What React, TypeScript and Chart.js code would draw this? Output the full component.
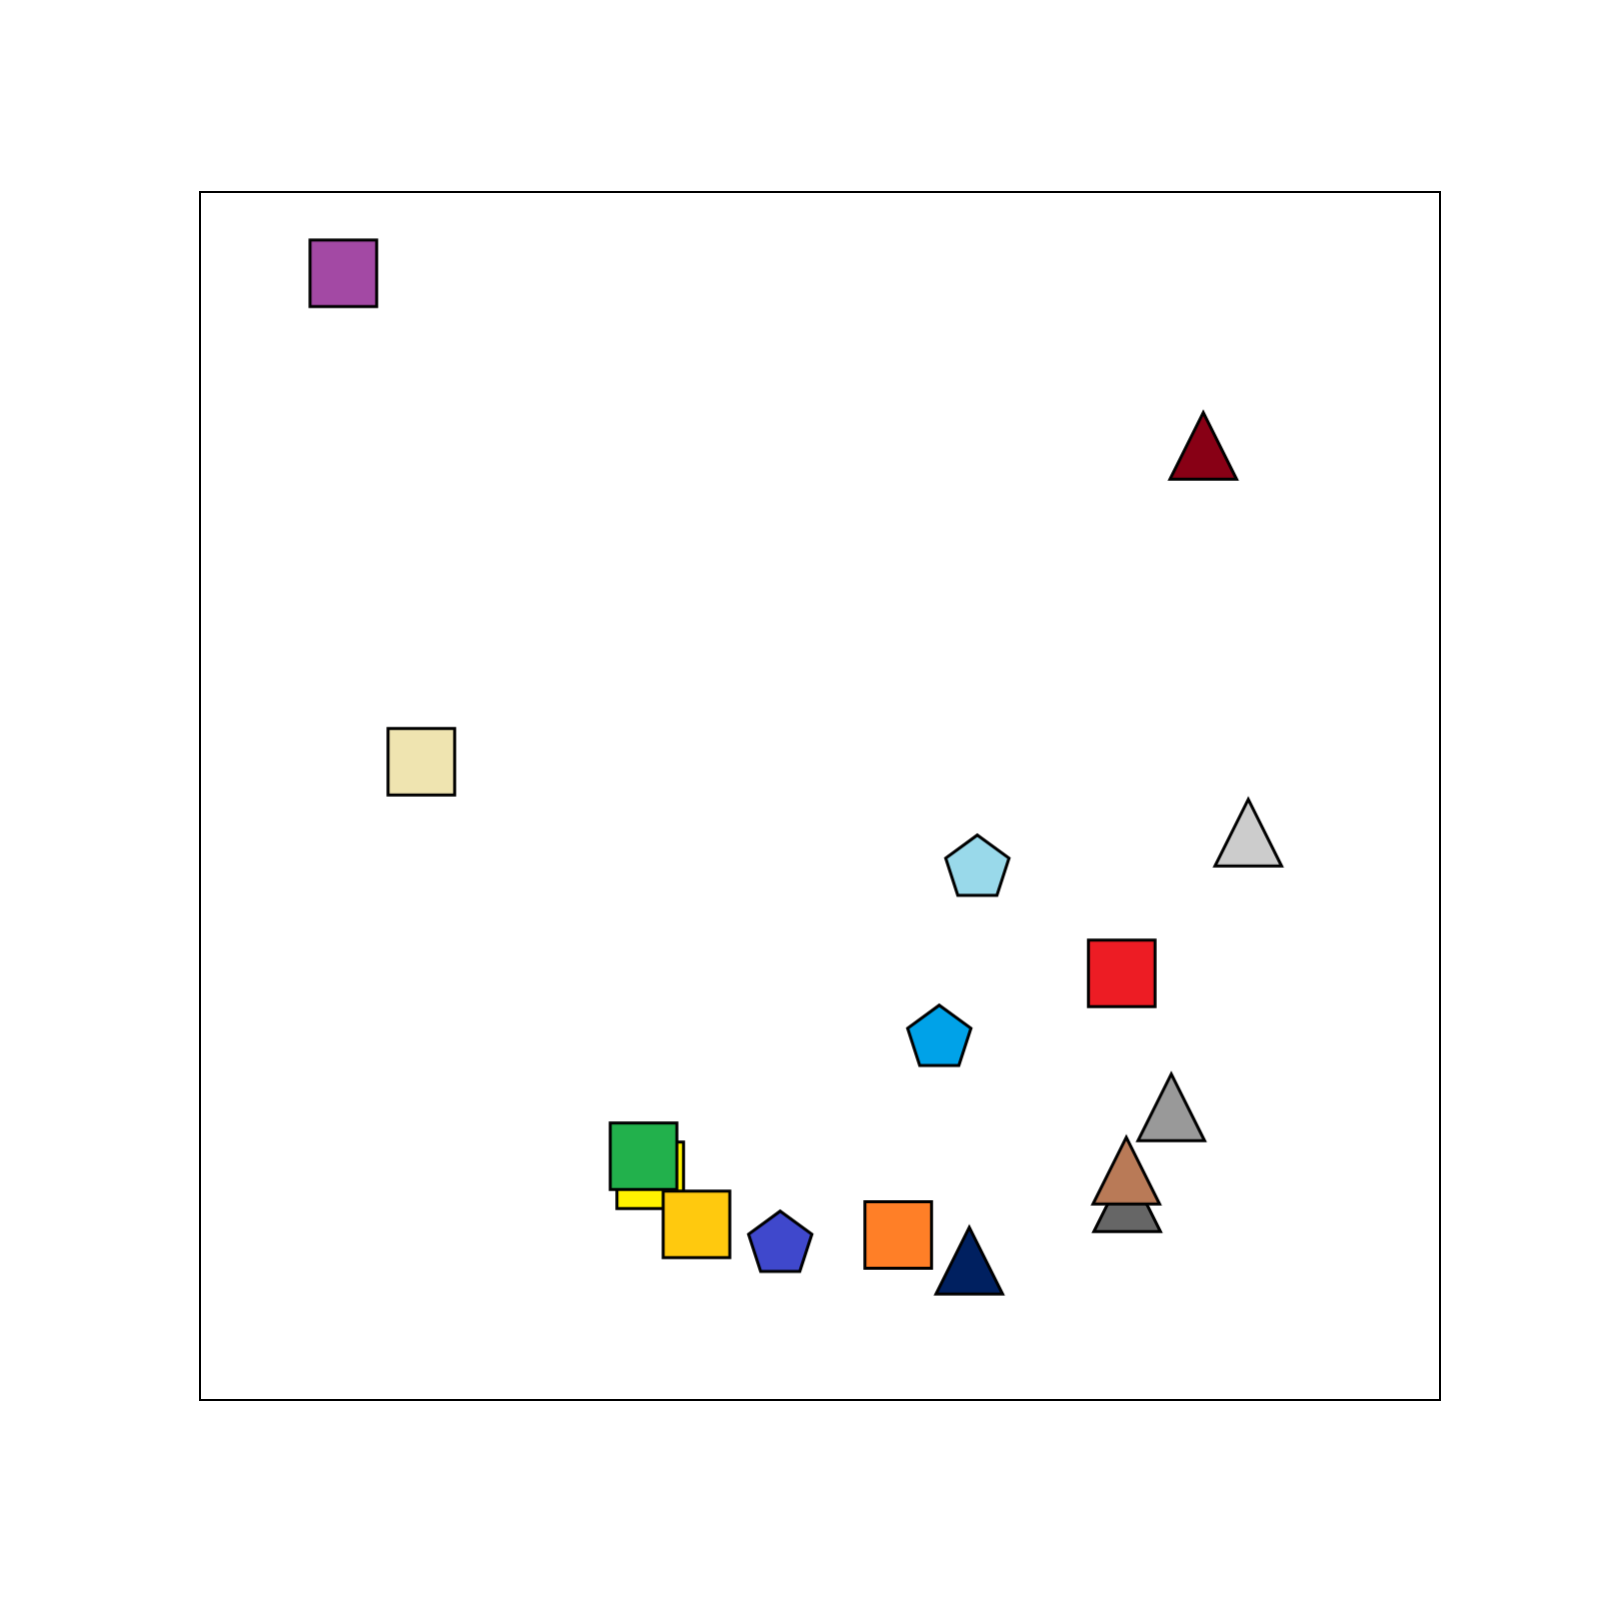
import React, { useEffect, useRef } from "react";
import { Chart, registerables } from "chart.js";

Chart.register(...registerables);

// Point values (axis range 0..100 on both axes, y upward)
const xValues = [11.56, 17.85, 80.91, 84.54, 62.69, 74.33, 59.62, 78.33, 74.77, 74.70, 36.31, 35.77, 40.04, 46.79, 56.31, 62.04];
const yValues = [93.27, 52.84, 78.98, 46.96, 44.01, 35.32, 29.93, 24.22, 16.70, 18.98, 18.60, 20.18, 14.54, 12.88, 13.66, 11.53];
const markerShapes = ["square", "square", "triangle", "triangle", "pentagon", "square", "pentagon", "triangle", "triangle", "triangle", "square", "square", "square", "pentagon", "square", "triangle"];
const markerColors = ["#a349a4", "#efe4b0", "#880015", "#cccccc", "#99d9ea", "#ed1c24", "#00a2e8", "#999999", "#666666", "#b97a57", "#fff200", "#22b14c", "#ffc90e", "#3f48cc", "#ff7f27", "#002060"];

const HALF = 33.3;
const LW = 3;

function makeMarker(shape: string, color: string): HTMLCanvasElement {
  const c = document.createElement("canvas");
  const S = 90;
  c.width = S;
  c.height = S;
  const ctx = c.getContext("2d")!;
  const cx = S / 2;
  const cy = S / 2;
  ctx.beginPath();
  if (shape === "square") {
    ctx.rect(cx - HALF, cy - HALF, 2 * HALF, 2 * HALF);
  } else if (shape === "triangle") {
    ctx.moveTo(cx, cy - HALF);
    ctx.lineTo(cx - HALF, cy + HALF);
    ctx.lineTo(cx + HALF, cy + HALF);
    ctx.closePath();
  } else {
    for (let i = 0; i < 5; i++) {
      const a = -Math.PI / 2 + (i * 2 * Math.PI) / 5;
      const px = cx + HALF * Math.cos(a);
      const py = cy + HALF * Math.sin(a);
      if (i === 0) ctx.moveTo(px, py);
      else ctx.lineTo(px, py);
    }
    ctx.closePath();
  }
  ctx.fillStyle = color;
  ctx.fill();
  ctx.lineWidth = LW;
  ctx.lineJoin = "miter";
  ctx.strokeStyle = "#000000";
  ctx.stroke();
  return c;
}

const framePlugin = {
  id: "frame",
  afterDraw(chart: any) {
    const { ctx, chartArea } = chart;
    ctx.save();
    ctx.strokeStyle = "#000000";
    ctx.lineWidth = 2;
    ctx.strokeRect(chartArea.left, chartArea.top, chartArea.right - chartArea.left, chartArea.bottom - chartArea.top);
    ctx.restore();
  },
};

export default function App() {
  const ref = useRef<HTMLCanvasElement | null>(null);
  useEffect(() => {
    if (!ref.current) return;
    const styles = markerShapes.map((s, i) => makeMarker(s, markerColors[i]));
    const data = xValues.map((x, i) => ({ x, y: yValues[i] }));
    const chart = new Chart(ref.current, {
      type: "scatter",
      data: {
        datasets: [
          {
            data,
            pointStyle: styles as any,
            pointRadius: HALF,
            pointHoverRadius: HALF,
            backgroundColor: markerColors,
            borderColor: "#000000",
          },
        ],
      },
      options: {
        animation: false,
        responsive: true,
        maintainAspectRatio: false,
        layout: { padding: { left: 200, top: 192, right: 160, bottom: 200 } },
        scales: {
          x: { type: "linear", min: 0, max: 100, display: false },
          y: { type: "linear", min: 0, max: 100, display: false },
        },
        plugins: { legend: { display: false }, tooltip: { enabled: false } },
        events: [],
      },
      plugins: [framePlugin],
    });
    return () => chart.destroy();
  }, []);
  return (
    <div style={{ position: "fixed", left: 0, top: 0, width: 1600, height: 1600, background: "#ffffff" }}>
      <canvas ref={ref} />
    </div>
  );
}
